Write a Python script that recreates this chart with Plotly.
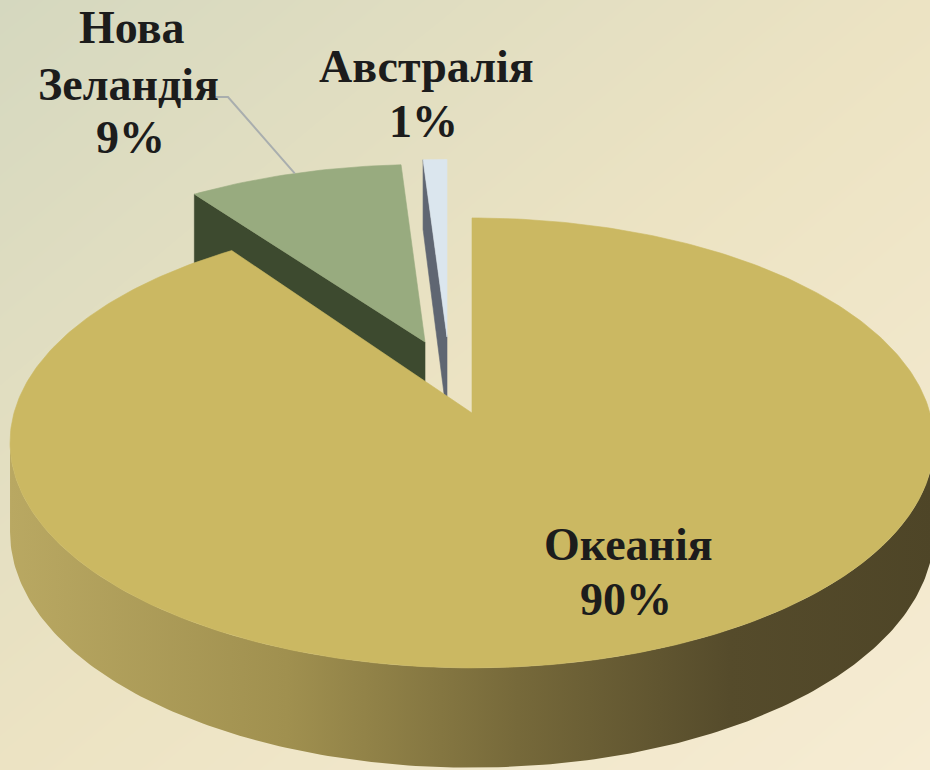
import numpy as np
import plotly.graph_objects as go

# ---------------- data ----------------
labels = ["Океанія", "Нова Зеландія", "Австралія"]
values = [90, 9, 1]
label_lines = [["Океанія"], ["Нова", "Зеландія"], ["Австралія"]]

# ---------------- style ----------------
W, H = 930, 770
CX, CY = 472, 413          # pie centre (px)
RX, RY = 458, 225          # ellipse radii (px)
K = 0.133                  # perspective factor
DEPTH = 88                 # thickness (px)
TOP_COLORS = ["#cbb862", "#98ab7f", "#dbe6ee"]
FACE_COLORS = ["#8d7e45", "#3d4a2f", "#5f6672"]
WALL_SCALE = [[0.0, "#b9a862"], [0.3, "#a0904f"], [0.55, "#76693a"],
              [0.78, "#554b2b"], [1.0, "#4e4527"]]
SHIFT = [(0, 0), (-47, -71), (-25, -76)]
SCALE = [(1.0, 1.0), (0.96, 0.91), (0.96, 0.91)]
LABEL_POS = [[(628, 544), (626, 599)],
             [(131, 27), (128, 84), (130, 137)],
             [(426, 66), (423, 121)]]
LEADER_ANCHOR = [(213, 97), (228, 97)]
FONT = dict(family="Liberation Serif", size=46,
            color="#1c1c1c", weight="bold")


def rim(theta, i, bottom=False):
    """Projected point on rim at angle theta (deg, clockwise from top)."""
    t = np.radians(theta)
    f = 1 - K * np.cos(t)
    dx = RX * np.sin(t) * f
    dy = -RY * np.cos(t) * f
    if bottom:
        dy = dy + DEPTH * f
    sx, sy = SCALE[i]
    ox, oy = SHIFT[i]
    return CX + ox + dx * sx, CY + oy + dy * sy


def centre(i, bottom=False):
    sx, sy = SCALE[i]
    ox, oy = SHIFT[i]
    return CX + ox, CY + oy + (DEPTH * sy if bottom else 0)


total = sum(values)
bounds = np.concatenate([[0], np.cumsum(values) / total * 360])

fig = go.Figure()

# background gradient
gx = np.linspace(0, W, 40)
gy = np.linspace(0, H, 40)
GX, GY = np.meshgrid(gx, gy)
fig.add_trace(go.Heatmap(
    x=gx, y=gy, z=(GX / W + GY / H) / 2, zsmooth="best", showscale=False,
    hoverinfo="skip",
    colorscale=[[0, "#d5d8bf"], [0.5, "#ece3c3"], [1, "#f6ecd3"]],
    zmin=0, zmax=1))


def poly(xs, ys, color, gradient=None):
    kw = dict(x=xs, y=ys, mode="lines", fill="toself",
              line=dict(width=0.6, color=color), hoverinfo="skip",
              showlegend=False)
    if gradient is not None:
        kw["fillgradient"] = dict(type="horizontal", colorscale=gradient)
        kw["line"] = dict(width=0)
    else:
        kw["fillcolor"] = color
    fig.add_trace(go.Scatter(**kw))


# exploded small slices (drawn first, they sit behind)
for i in [1, 2]:
    a0, a1 = bounds[i], bounds[i + 1]
    p_t = rim(a0, i)
    p_b = rim(a0, i, bottom=True)
    c_t = centre(i)
    c_b = centre(i, bottom=True)
    poly([c_t[0], p_t[0], p_b[0], c_b[0], c_t[0]],
         [c_t[1], p_t[1], p_b[1], c_b[1], c_t[1]], FACE_COLORS[i])
    th = np.linspace(a0, a1, 30)
    pts = [rim(t, i) for t in th]
    xs = [c_t[0]] + [p[0] for p in pts] + [c_t[0]]
    ys = [c_t[1]] + [p[1] for p in pts] + [c_t[1]]
    poly(xs, ys, TOP_COLORS[i])

# big slice: front wall with gradient
tt = np.linspace(60, 120, 601)
xx = np.sin(np.radians(tt)) * (1 - K * np.cos(np.radians(tt)))
th_sil = tt[np.argmax(xx)]
a0, a1 = bounds[0], bounds[1]
w_end = min(360 - th_sil, a1)
th = np.linspace(th_sil, w_end, 200)
top = [rim(t, 0) for t in th]
bot = [rim(t, 0, bottom=True) for t in th[::-1]]
xs = [p[0] for p in top] + [p[0] for p in bot] + [top[0][0]]
ys = [p[1] for p in top] + [p[1] for p in bot] + [top[0][1]]
poly(xs, ys, FACE_COLORS[0], gradient=WALL_SCALE)

# big slice top face
th = np.linspace(a0, a1, 400)
pts = [rim(t, 0) for t in th]
c = centre(0)
poly([c[0]] + [p[0] for p in pts] + [c[0]],
     [c[1]] + [p[1] for p in pts] + [c[1]], TOP_COLORS[0])

# leader line for Нова Зеландія (to the mid-arc of its slice)
mid = (bounds[1] + bounds[2]) / 2
end = rim(mid, 1)
fig.add_trace(go.Scatter(
    x=[LEADER_ANCHOR[0][0], LEADER_ANCHOR[1][0], end[0]],
    y=[LEADER_ANCHOR[0][1], LEADER_ANCHOR[1][1], end[1]],
    mode="lines", line=dict(color="#a9aeae", width=2),
    hoverinfo="skip", showlegend=False))

# labels
for i, lines in enumerate(label_lines):
    pct = f"{round(values[i] / total * 100)}%"
    texts = lines + [pct]
    for txt, (x, y) in zip(texts, LABEL_POS[i]):
        fig.add_annotation(x=x, y=y, text=txt, showarrow=False,
                           xanchor="center", yanchor="middle", font=FONT)

fig.update_layout(
    width=W, height=H, margin=dict(l=0, r=0, t=0, b=0, pad=0),
    paper_bgcolor="#ece3c3", plot_bgcolor="#ece3c3", showlegend=False,
    xaxis=dict(range=[0, W], visible=False, fixedrange=True),
    yaxis=dict(range=[H, 0], visible=False, fixedrange=True),
)

fig.write_html("out.html")
